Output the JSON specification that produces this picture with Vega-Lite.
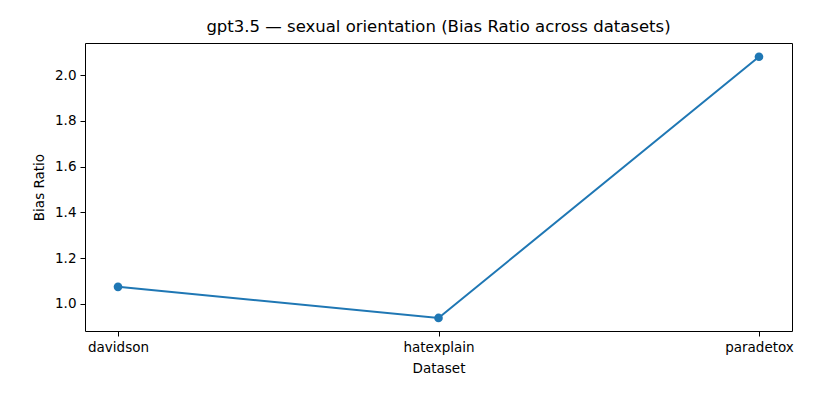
{
  "$schema": "https://vega.github.io/schema/vega-lite/v6.json",
  "autosize": {"type": "none"},
  "width": 707,
  "height": 288,
  "padding": {"left": 85, "top": 43, "right": 31, "bottom": 74},
  "title": {"text": "gpt3.5 — sexual orientation (Bias Ratio across datasets)", "fontSize": 16.5, "fontWeight": "normal", "font": "DejaVu Sans", "color": "black", "offset": 8},
  "data": {"values": [
    {"Dataset": "davidson", "ratio": 1.075},
    {"Dataset": "hatexplain", "ratio": 0.939},
    {"Dataset": "paradetox", "ratio": 2.08}
  ]},
  "mark": {"type": "line", "point": {"size": 75, "filled": true, "opacity": 1, "color": "#1f77b4"}, "color": "#1f77b4", "strokeWidth": 2},
  "encoding": {
    "x": {"field": "Dataset", "type": "ordinal", "scale": {"type": "point", "padding": 0.103}, "axis": {"labelAngle": 0, "title": "Dataset", "titlePadding": 8}},
    "y": {"field": "ratio", "type": "quantitative", "scale": {"domain": [0.882, 2.14], "nice": false, "zero": false}, "axis": {"title": "Bias Ratio", "values": [1.0, 1.2, 1.4, 1.6, 1.8, 2.0], "format": ".1f", "titlePadding": 8}}
  },
  "config": {
    "view": {"stroke": "black"},
    "axis": {"grid": false, "domain": false, "tickColor": "black", "labelColor": "black", "titleColor": "black", "labelFont": "DejaVu Sans", "titleFont": "DejaVu Sans", "labelFontSize": 13.5, "titleFontSize": 13.5, "titleFontWeight": "normal", "tickSize": 5, "labelPadding": 4}
  }
}
